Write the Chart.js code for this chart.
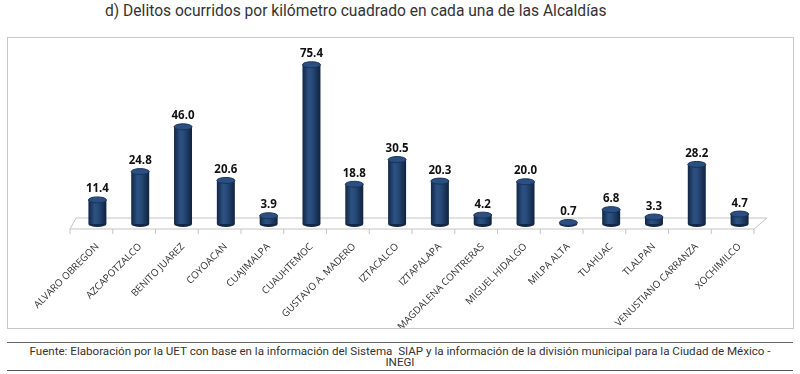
<!DOCTYPE html>
<html>
<head>
<meta charset="utf-8">
<script src="https://cdn.jsdelivr.net/npm/chart.js@4.4.1/dist/chart.umd.min.js"></script>
<style>
  body { margin: 0; background: #fff; width: 800px; height: 374px; position: relative; overflow: hidden; }
  #title { position: absolute; left: 105px; top: 2px; font-family: Roboto, sans-serif; font-size: 15.6px; color: #333; white-space: nowrap; }
  #box { position: absolute; left: 7px; top: 37px; width: 785px; height: 290px; border: 1px solid #c9c9c9; }
  #footer { position: absolute; left: 7px; top: 342px; width: 786px; height: 29px; border-top: 1px solid #666; border-bottom: 1px solid #555;
            font-family: Roboto, sans-serif; font-size: 11.6px; color: #333; text-align: center; line-height: 10.5px; padding-top: 3px; box-sizing: border-box; }
</style>
</head>
<body>
<div id="title">d) Delitos ocurridos por kilómetro cuadrado en cada una de las Alcaldías</div>
<div id="box"><canvas id="myChart"></canvas></div>
<div id="footer">Fuente: Elaboración por la UET con base en la información del Sistema &nbsp;SIAP y la información de la división municipal para la Ciudad de México -<br>INEGI</div>
<script>
const alcaldias = ["ALVARO OBREGON", "AZCAPOTZALCO", "BENITO JUAREZ", "COYOACAN", "CUAJIMALPA",
  "CUAUHTEMOC", "GUSTAVO A. MADERO", "IZTACALCO", "IZTAPALAPA", "MAGDALENA CONTRERAS",
  "MIGUEL HIDALGO", "MILPA ALTA", "TLAHUAC", "TLALPAN", "VENUSTIANO CARRANZA", "XOCHIMILCO"];
const delitosKm2 = [11.4, 24.8, 46.0, 20.6, 3.9, 75.4, 18.8, 30.5, 20.3, 4.2, 20.0, 0.7, 6.8, 3.3, 28.2, 4.7];

const ctx = document.getElementById("myChart");

function barGradient(context) {
  let chart = context.chart;
  if (!chart.chartArea) return "#1f3c66";
  let x = chart.scales.x.getPixelForValue(context.dataIndex);
  let w = (chart.chartArea.width / alcaldias.length) * 0.42;
  let g = chart.ctx.createLinearGradient(x - w / 2, 0, x + w / 2, 0);
  g.addColorStop(0, "#122645");
  g.addColorStop(0.35, "#2c5283");
  g.addColorStop(0.55, "#274a78");
  g.addColorStop(1, "#10223f");
  return g;
}

// piso en perspectiva debajo de las barras
const floorPlugin = {
  id: "floor",
  beforeDatasetsDraw(chart) {
    let c = chart.ctx;
    let a = chart.chartArea;
    let base = chart.scales.y.getPixelForValue(0);
    c.save();
    c.strokeStyle = "#c4c4c4";
    c.lineWidth = 1;
    c.beginPath();
    c.moveTo(a.left - 6, base + 5);
    c.lineTo(a.right - 7, base + 5);
    c.lineTo(a.right + 6, base - 6);
    c.lineTo(a.left, base - 6);
    c.closePath();
    c.stroke();
    let step = a.width / alcaldias.length;
    c.beginPath();
    for (let i = 0; i <= alcaldias.length; i++) {
      let x = a.left - 6 + i * step * ((a.width - 1) / a.width);
      c.moveTo(x, base + 5);
      c.lineTo(x, base + 10);
    }
    c.stroke();
    c.restore();
  },
};

// tapas de cilindro y etiquetas de valor
const capsPlugin = {
  id: "caps",
  afterDatasetsDraw(chart) {
    let c = chart.ctx;
    let meta = chart.getDatasetMeta(0);
    c.save();
    meta.data.forEach((bar, i) => {
      let w = bar.width;
      let base = bar.base;
      // fondo
      c.fillStyle = "#132847";
      c.beginPath();
      c.ellipse(bar.x, base, w / 2, 3, 0, 0, Math.PI);
      c.fill();
      // tapa
      c.fillStyle = "#2a4f80";
      c.strokeStyle = "#18335a";
      c.beginPath();
      c.ellipse(bar.x, bar.y, w / 2, 3, 0, 0, Math.PI * 2);
      c.fill();
      c.stroke();
      c.fillStyle = "#111";
      c.font = "bold 11.5px 'Open Sans', sans-serif";
      c.textAlign = "center";
      c.textBaseline = "bottom";
      c.fillText(delitosKm2[i].toFixed(1), bar.x, bar.y - 5);
    });
    c.restore();
  },
};

new Chart(ctx, {
  type: "bar",
  data: {
    labels: alcaldias,
    datasets: [
      {
        data: delitosKm2,
        backgroundColor: barGradient,
        borderWidth: 0,
        barPercentage: 0.42,
        categoryPercentage: 1,
      },
    ],
  },
  options: {
    responsive: true,
    maintainAspectRatio: false,
    animation: false,
    layout: {
      padding: { left: 68, right: 32, top: 17, bottom: 0 },
    },
    scales: {
      y: {
        display: false,
        min: 0,
        max: 80,
      },
      x: {
        grid: { display: false },
        border: { display: false },
        ticks: {
          minRotation: 45,
          maxRotation: 45,
          padding: 9,
          color: "#333",
          font: { family: "'Open Sans', sans-serif", size: 9.8 },
        },
        afterFit(scale) {
          scale.height = 104;
        },
      },
    },
    plugins: {
      legend: { display: false },
      tooltip: { enabled: false },
    },
  },
  plugins: [floorPlugin, capsPlugin],
});
</script>
</body>
</html>
